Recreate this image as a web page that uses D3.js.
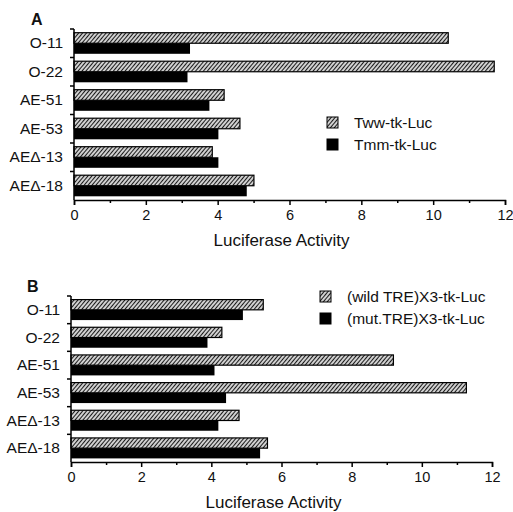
<!DOCTYPE html>
<html>
<head>
<meta charset="utf-8">
<script src="https://cdn.jsdelivr.net/npm/d3@7"></script>
<style>
  body { margin: 0; background: #fff; }
  text { font-family: "Liberation Sans", Arial, sans-serif; fill: #111; }
</style>
</head>
<body>
<script>
var width = 513,
    height = 512;

// data
var constructs = ['O-11', 'O-22', 'AE-51', 'AE-53', 'AE\u0394-13', 'AE\u0394-18'];

var seriesA = ['Tww-tk-Luc', 'Tmm-tk-Luc'];
var hatchA = [10.42, 11.7, 4.18, 4.62, 3.85, 5.01];
var solidA = [3.23, 3.16, 3.77, 4.02, 4.02, 4.81];

var seriesB = ['(wild TRE)X3-tk-Luc', '(mut.TRE)X3-tk-Luc'];
var hatchB = [5.48, 4.3, 9.19, 11.27, 4.79, 5.6];
var solidB = [4.9, 3.89, 4.09, 4.42, 4.2, 5.39];

var svg = d3.select('body').append('svg')
    .attr('width', width)
    .attr('height', height);

var defs = svg.append('defs');
var pat = defs.append('pattern')
    .attr('id', 'hatch')
    .attr('patternUnits', 'userSpaceOnUse')
    .attr('width', 3)
    .attr('height', 3)
    .attr('patternTransform', 'rotate(40)');
pat.append('rect')
    .attr('width', 3).attr('height', 3)
    .attr('fill', '#d0d0d0');
pat.append('line')
    .attr('x1', 0).attr('y1', 0)
    .attr('x2', 0).attr('y2', 3)
    .attr('stroke', '#1a1a1a')
    .attr('stroke-width', 2);

function panel(opt) {
    var g = svg.append('g');

    var x = d3.scaleLinear().domain([0, 12]).range([opt.x0, opt.x1]);
    var y = d3.scaleBand().domain(constructs).range([opt.y0, opt.y1]);

    var bh = y.bandwidth() * 0.37;
    var off = (y.bandwidth() - 2 * bh) / 2;

    // bars
    constructs.forEach(function (c, i) {
        g.append('rect')
            .attr('x', x(0))
            .attr('y', y(c) + off)
            .attr('width', x(opt.hatch[i]) - x(0))
            .attr('height', bh)
            .attr('fill', 'url(#hatch)')
            .attr('stroke', '#000')
            .attr('stroke-width', 1.2);
        g.append('rect')
            .attr('x', x(0))
            .attr('y', y(c) + off + bh)
            .attr('width', x(opt.solid[i]) - x(0))
            .attr('height', bh)
            .attr('fill', '#000');
    });

    // x axis
    var xa = g.append('g')
        .attr('transform', 'translate(0,' + opt.y1 + ')')
        .call(d3.axisBottom(x).tickValues(d3.range(0, 13, 1)).tickSize(5)
            .tickFormat(function (d) { return d % 2 === 0 ? d : ''; }));
    xa.select('.domain').attr('stroke', '#000').attr('stroke-width', 1.5);
    xa.selectAll('.tick line')
        .attr('stroke-width', 1.5)
        .attr('y2', function (d) { return d % 2 === 0 ? 5 : 3; });
    xa.selectAll('.tick text')
        .attr('y', 10)
        .attr('fill', '#111')
        .style('font-size', '14.5px')
        .style('font-family', '"Liberation Sans", Arial, sans-serif');

    g.append('text')
        .attr('x', (opt.x0 + opt.x1) / 2 - 8)
        .attr('y', opt.y1 + 46)
        .attr('text-anchor', 'middle')
        .style('font-size', '17px')
        .text('Luciferase Activity');

    // y axis
    var ya = g.append('g')
        .attr('transform', 'translate(' + opt.x0 + ',0)');
    ya.append('line')
        .attr('x1', 0).attr('x2', 0)
        .attr('y1', opt.y0).attr('y2', opt.y1)
        .attr('stroke', '#000').attr('stroke-width', 1.5);
    ya.selectAll('.yt')
        .data(constructs)
        .enter().append('line')
        .attr('x1', -4).attr('x2', 0)
        .attr('y1', function (d) { return y(d); })
        .attr('y2', function (d) { return y(d); })
        .attr('stroke', '#000').attr('stroke-width', 1.5);
    ya.selectAll('.yl')
        .data(constructs)
        .enter().append('text')
        .attr('x', -11)
        .attr('y', function (d) { return y(d) + y.bandwidth() / 2 + 5; })
        .attr('text-anchor', 'end')
        .style('font-size', '15.5px')
        .text(function (d) { return d; });

    // panel letter
    g.append('text')
        .attr('x', opt.lx)
        .attr('y', opt.ly)
        .style('font-size', '16px')
        .style('font-weight', 'bold')
        .text(opt.letter);

    // legend
    var lg = g.append('g')
        .attr('transform', 'translate(' + opt.legX + ',' + opt.legY + ')');
    opt.series.forEach(function (s, i) {
        lg.append('rect')
            .attr('x', 0)
            .attr('y', i * 22)
            .attr('width', 11)
            .attr('height', 11)
            .attr('fill', i === 0 ? 'url(#hatch)' : '#000')
            .attr('stroke', '#000');
        lg.append('text')
            .attr('x', 27)
            .attr('y', i * 22 + 11)
            .style('font-size', '15.5px')
            .text(s);
    });
}

panel({
    letter: 'A', lx: 31, ly: 25,
    x0: 74, x1: 505, y0: 29, y1: 200,
    hatch: hatchA, solid: solidA, series: seriesA,
    legX: 327, legY: 117
});

panel({
    letter: 'B', lx: 27, ly: 292,
    x0: 71, x1: 492, y0: 296, y1: 462,
    hatch: hatchB, solid: solidB, series: seriesB,
    legX: 320, legY: 291
});
</script>
</body>
</html>
